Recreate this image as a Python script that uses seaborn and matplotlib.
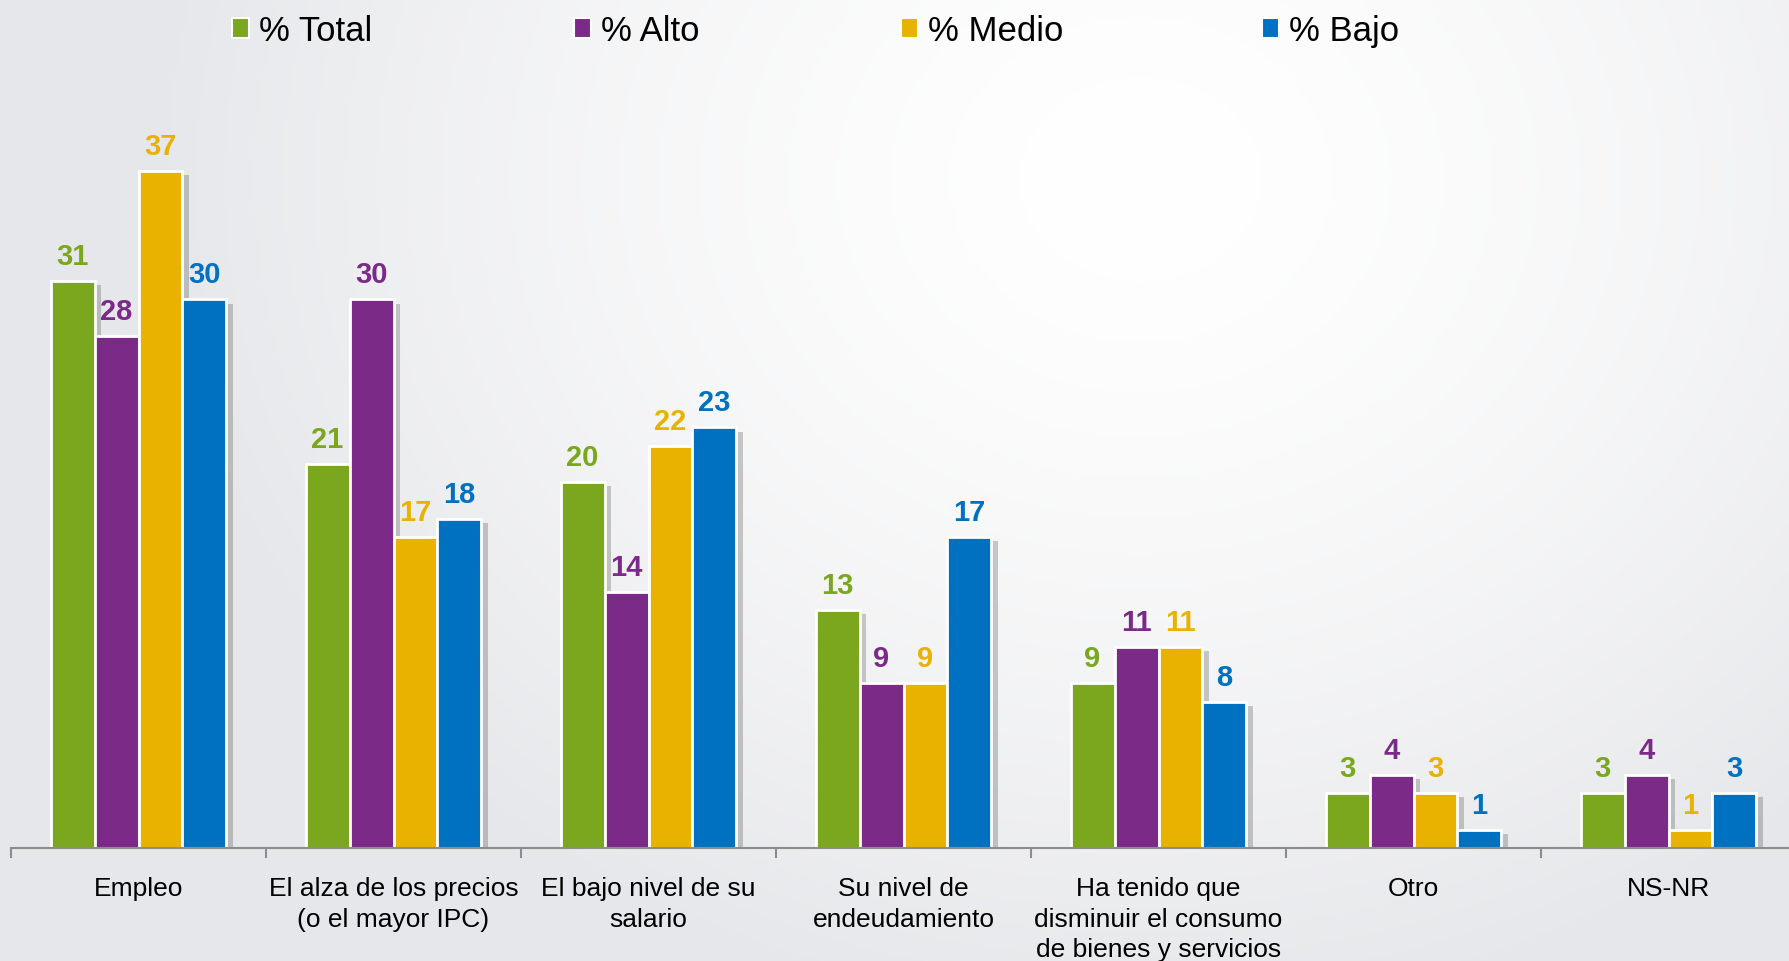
import numpy as np
import pandas as pd
import matplotlib
matplotlib.use('Agg')
import matplotlib.pyplot as plt
import matplotlib.patheffects as pe
from matplotlib.ticker import FixedLocator
import seaborn as sns

categories = ['Empleo', 'El alza de los precios\n(o el mayor IPC)', 'El bajo nivel de su\nsalario',
              'Su nivel de\nendeudamiento', 'Ha tenido que\ndisminuir el consumo\nde bienes y servicios',
              'Otro', 'NS-NR']
series = ['% Total', '% Alto', '% Medio', '% Bajo']
total = [31, 21, 20, 13, 9, 3, 3]
alto = [28, 30, 14, 9, 11, 4, 4]
medio = [37, 17, 22, 9, 11, 3, 1]
bajo = [30, 18, 23, 17, 8, 1, 3]
colors = ['#7AA71E', '#7B2B87', '#E9B200', '#0071C1']

df = pd.DataFrame({'Categoria': categories * 4,
                   'Serie': np.repeat(series, len(categories)),
                   'Valor': total + alto + medio + bajo})

sns.set_theme(style='white')
plt.rcParams['font.family'] = ['Liberation Sans', 'DejaVu Sans']
plt.rcParams['text.color'] = 'black'

W, H = 1789, 962
fig = plt.figure(figsize=(W / 100, H / 100), dpi=100)

# radial grey-to-white background
bg = fig.add_axes([0, 0, 1, 1], zorder=-10)
yy, xx = np.mgrid[0:H, 0:W]
r = np.sqrt(((xx - 1140) / 1.0) ** 2 + ((yy - 180) / 0.85) ** 2)
shade = np.clip(r / 1000, 0, 1) ** 1.5
base = np.array([1.0, 1.0, 1.0])
edge = np.array([0.902, 0.906, 0.918])
img = base[None, None, :] * (1 - shade[..., None]) + edge[None, None, :] * shade[..., None]
bg.imshow(img, aspect='auto', extent=[0, 1, 0, 1])
bg.axis('off')

ax = fig.add_axes([11 / W, (H - 849) / H, 7 * 255 / W, 823 / H])
ax.patch.set_alpha(0)
sns.barplot(data=df, x='Categoria', y='Valor', hue='Serie', palette=colors,
            width=0.69, gap=0, edgecolor='white', linewidth=2, ax=ax, legend=False,
            saturation=1, errorbar=None)

for patch in ax.patches:
    patch.set_path_effects([pe.SimplePatchShadow(offset=(5, -3), shadow_rgbFace='#555555', alpha=0.3),
                            pe.Normal()])

for cont, col in zip(ax.containers, colors):
    ax.bar_label(cont, fmt='%d', padding=8, color=col, fontsize=21, fontweight='bold')

ax.set_xlim(-0.5, 6.5)
ax.set_ylim(0, 45)
ax.set_xlabel('')
ax.set_ylabel('')
ax.set_yticks([])
for s in ['top', 'right', 'left']:
    ax.spines[s].set_visible(False)
ax.spines['bottom'].set_color('#8C8C8C')
ax.spines['bottom'].set_linewidth(1.5)
ax.xaxis.set_minor_locator(FixedLocator(np.arange(-0.5, 7, 1)))
ax.tick_params(axis='x', which='minor', bottom=True, length=7, width=1.5, color='#8C8C8C', direction='out')
ax.tick_params(axis='x', which='major', length=0, pad=20, labelsize=19, labelcolor='black')
for lbl in ax.get_xticklabels():
    lbl.set_linespacing(1.36)

# legend: one entry per box, anchored at the top so the descender in "Bajo" does not shift it
legend_x = [232, 574, 901, 1262]
for lab, col, lx in zip(series, colors, legend_x):
    h = plt.Rectangle((0, 0), 1, 1, facecolor=col, edgecolor='white', linewidth=1.5)
    fig.legend([h], [lab], loc='upper left', bbox_to_anchor=(lx / W, 1 - 15 / H),
               frameon=False, fontsize=25, handlelength=0.5, handleheight=0.5, handletextpad=0.27,
               borderpad=0, borderaxespad=0, labelcolor='black')

fig.savefig('out.png', dpi=100)
